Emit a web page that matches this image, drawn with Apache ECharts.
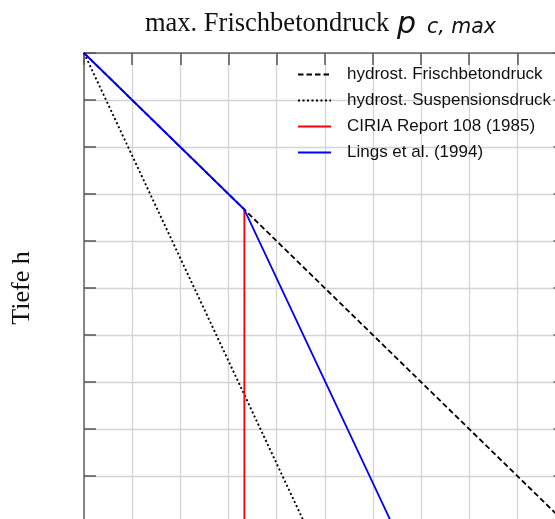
<!DOCTYPE html>
<html>
<head>
<meta charset="utf-8">
<script src="https://cdn.jsdelivr.net/npm/echarts@6/dist/echarts.min.js"></script>
<style>html,body{margin:0;padding:0;background:#fff;}#c{width:555px;height:519px;}</style>
</head>
<body>
<div id="c"></div>
<script>
// Data (x = pressure in grid units, y = depth in grid units)
var seriesNames = ['hydrost. Frischbetondruck', 'hydrost. Suspensionsdruck', 'CIRIA Report 108 (1985)', 'Lings et al. (1994)'];
var hydrostConcrete = [[0, 0], [10, 10]];
var hydrostSuspension = [[0, 0], [4.58, 10]];
var ciria = [[3.33, 3.33], [3.33, 10]];
var lings = [[0, 0], [3.33, 3.33], [6.39, 10]];
var axisMin = 0, axisMax = 10, axisStep = 1;

var chart = echarts.init(document.getElementById('c'), null, {renderer: 'canvas'});

function tickStyle(show) { return {show: show, inside: true, length: 12, lineStyle: {color: '#555', width: 1.5}}; }
function lineAxis() { return {show: true, onZero: false, lineStyle: {color: '#666', width: 1.5}}; }
function split(show) { return {show: show, lineStyle: {color: '#d4d4d4', width: 1.3}}; }

function valueAxis(pos, inverse, showSplit, showTicks) {
  return {type: 'value', position: pos, inverse: inverse, min: axisMin, max: axisMax, interval: axisStep,
    axisLine: lineAxis(), axisTick: tickStyle(showTicks), axisLabel: {show: false}, splitLine: split(showSplit)};
}
var yLeft = valueAxis('left', true, true, true);
yLeft.name = 'Tiefe h';
yLeft.nameLocation = 'middle';
yLeft.nameGap = 49;
yLeft.nameRotate = 90;
yLeft.nameTextStyle = {fontFamily: 'Liberation Serif', fontSize: 26, color: '#111'};
var yRight = valueAxis('right', true, false, true);
var xTop = valueAxis('top', false, true, true);
var xBottom = valueAxis('bottom', false, false, false);

chart.setOption({
  animation: false,
  backgroundColor: '#fff',
  title: [
    {text: 'max. Frischbetondruck', left: 145, top: 11, padding: 0,
      textStyle: {fontFamily: 'Liberation Serif', fontSize: 26.5, fontWeight: 'normal', color: '#111', lineHeight: 26}},
    {text: 'p', left: 397, top: 10, padding: 0,
      textStyle: {fontFamily: 'DejaVu Sans', fontStyle: 'italic', fontSize: 30, fontWeight: 'normal', color: '#111', lineHeight: 30}},
    {text: 'c, max', left: 427, top: 18, padding: 0,
      textStyle: {fontFamily: 'DejaVu Sans', fontStyle: 'italic', fontSize: 20.5, fontWeight: 'normal', color: '#111', lineHeight: 20}}
  ],
  grid: {left: 84, top: 53, width: 481.5, height: 470, show: false, outerBoundsMode: 'none', containLabel: false},
  legend: {
    orient: 'vertical', left: 297, top: 66, itemWidth: 33, itemHeight: 17, itemGap: 9, padding: 0,
    itemStyle: {opacity: 0},
    textStyle: {fontFamily: 'Liberation Sans', fontSize: 17, lineHeight: 17, color: '#111', padding: [0, 0, 0, 11]},
    data: seriesNames
  },
  xAxis: [xTop, xBottom],
  yAxis: [yLeft, yRight],
  series: [
    {name: seriesNames[0], type: 'line', data: hydrostConcrete, symbol: 'none', xAxisIndex: 0, yAxisIndex: 0,
      lineStyle: {color: '#000', width: 1.8, type: [5.5, 3]}, itemStyle: {color: '#000'}, z: 3},
    {name: seriesNames[1], type: 'line', data: hydrostSuspension, symbol: 'none', xAxisIndex: 0, yAxisIndex: 0,
      lineStyle: {color: '#000', width: 1.9, type: [2, 2.5]}, itemStyle: {color: '#000'}, z: 3},
    {name: seriesNames[2], type: 'line', data: ciria, symbol: 'none', xAxisIndex: 0, yAxisIndex: 0,
      lineStyle: {color: '#ff0000', width: 1.8}, itemStyle: {color: '#ff0000'}, z: 4},
    {name: seriesNames[3], type: 'line', data: lings, symbol: 'none', xAxisIndex: 0, yAxisIndex: 0,
      lineStyle: {color: '#0000ff', width: 1.8}, itemStyle: {color: '#0000ff'}, z: 5}
  ]
});
</script>
</body>
</html>
